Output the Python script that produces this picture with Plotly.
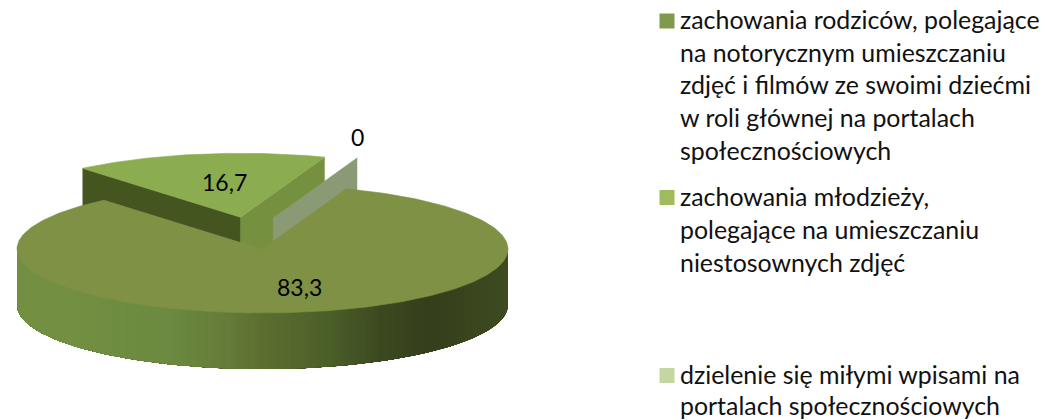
import numpy as np
import plotly.graph_objects as go

# Data
categories = [
    "zachowania rodziców, polegające na notorycznym umieszczaniu zdjęć i filmów ze swoimi dziećmi w roli głównej na portalach społecznościowych",
    "zachowania młodzieży, polegające na umieszczaniu niestosownych zdjęć",
    "dzielenie się miłymi wpisami na portalach społecznościowych",
]
values = [83.3, 16.7, 0]
value_labels = ["83,3", "16,7", "0"]
legend_lines = [
    ["zachowania rodziców, polegające", "na notorycznym umieszczaniu", "zdjęć i filmów ze swoimi dziećmi",
     "w roli głównej na portalach", "społecznościowych"],
    ["zachowania młodzieży,", "polegające na umieszczaniu", "niestosownych zdjęć"],
    ["dzielenie się miłymi wpisami na", "portalach społecznościowych"],
]

# Layout / style (pixel space of the page)
W, H = 1045, 420
CX, CY, RX, RY, DEPTH = 262.5, 249.0, 245.5, 64.0, 56.0
START = 20.0
OFFSETS = [(0, 0), (-21.8, -31.7), (10.8, -31.0)]
LABEL_POS = [(299, 287), (224, 182), (357, 137)]
FONT = "Lato"
LABEL_SIZE = 23
LEGEND_SIZE = 24.9
LEGEND_X_TEXT = 678
LEGEND_X_MARK = 667
LEGEND_COLORS = ["#7f9a4b", "#9fbb5c", "#c4d7a0"]
LEGEND_MARK_Y = [21, 197.5, 375.5]
LEGEND_LINE_Y = [[19, 51.5, 84, 117, 149.5], [196, 229, 262], [374, 405]]
TOP_COLORS = ["#7e9145", "#8cac50", "#8a9a74"]
WALL_STOPS = [(17, "#748f42"), (80, "#728f42"), (170, "#6c8a40"), (230, "#657b38"), (260, "#5c7030"),
              (330, "#4c5f2a"), (380, "#3c4a21"), (430, "#353f1c"), (508, "#3f4c21")]


def ell(theta, cx, cy):
    t = np.radians(theta)
    return cx + RX * np.sin(t), cy - RY * np.cos(t)


def hex2rgb(c):
    return [int(c[i:i + 2], 16) for i in (1, 3, 5)]


def wall_color(x):
    xs = [s[0] for s in WALL_STOPS]
    rgb = [hex2rgb(s[1]) for s in WALL_STOPS]
    return "rgb(%d,%d,%d)" % tuple(np.interp(x, xs, [c[i] for c in rgb]) for i in range(3))


def poly(fig, xs, ys, color, name=None, lw=0.6):
    fig.add_trace(go.Scatter(
        x=list(xs), y=list(ys), mode="lines", fill="toself", fillcolor=color,
        line=dict(color=color, width=lw), hoverinfo="skip", showlegend=False, name=name))


fig = go.Figure()

# Slice angles from the values
total = sum(values)
sweeps = [v / total * 360 for v in values]
a0 = START
a1 = a0 + sweeps[0]
a2 = a1 + sweeps[1]

# Exploded second slice: two inner walls and top face
cx2, cy2 = CX + OFFSETS[1][0], CY + OFFSETS[1][1]
lx, ly = ell(a1, cx2, cy2)
rx, ry = ell(a2, cx2, cy2)
poly(fig, [lx, cx2, cx2, lx], [ly, cy2, cy2 + DEPTH, ly + DEPTH], "#445520")
poly(fig, [rx, cx2, cx2, rx], [ry, cy2, cy2 + DEPTH, ry + DEPTH], "#75903f")
th = np.linspace(a1, a2, 80)
ex, ey = ell(th, cx2, cy2)
poly(fig, [cx2, *ex], [cy2, *ey], TOP_COLORS[1], categories[1])

# Zero slice: only its wall is visible
cx3, cy3 = CX + OFFSETS[2][0], CY + OFFSETS[2][1]
zx, zy = ell(a2 + sweeps[2], cx3, cy3)
poly(fig, [zx, cx3, cx3, zx], [zy, cy3, cy3 + DEPTH, zy + DEPTH], TOP_COLORS[2], categories[2])

# Main slice: outer wall painted right to left, each layer reaching the far end so no seams show
edges = np.linspace(90, 270, 161)
for b0 in edges[:-1]:
    tt = np.linspace(b0, 270, max(4, int((270 - b0) / 1.5)))
    sx, sy = ell(tt, CX, CY)
    poly(fig, [*sx, *sx[::-1]], [*sy, *(sy[::-1] + DEPTH)], wall_color(ell(b0 + 0.5, CX, CY)[0]), lw=0)
th = np.linspace(a0, a1, 300)
ex, ey = ell(th, CX, CY)
poly(fig, [CX, *ex], [CY, *ey], TOP_COLORS[0], categories[0])

# Value labels
for (x, y), t in zip(LABEL_POS, value_labels):
    fig.add_annotation(x=x, y=y, text=t, showarrow=False, xanchor="center", yanchor="middle",
                       font=dict(family=FONT, size=LABEL_SIZE, color="#000000"))

# Legend
fig.add_trace(go.Scatter(
    x=[LEGEND_X_MARK] * 3, y=LEGEND_MARK_Y, mode="markers",
    marker=dict(symbol="square", size=15, color=LEGEND_COLORS, line=dict(width=0)),
    hoverinfo="skip", showlegend=False))
for lines, ys in zip(legend_lines, LEGEND_LINE_Y):
    for line, y in zip(lines, ys):
        fig.add_annotation(x=LEGEND_X_TEXT, y=y, text=line, showarrow=False, xanchor="left",
                           yanchor="middle", font=dict(family=FONT, size=LEGEND_SIZE, color="#111111"))

fig.update_layout(
    width=W, height=H, margin=dict(l=0, r=0, t=0, b=0),
    paper_bgcolor="white", plot_bgcolor="white", showlegend=False,
    xaxis=dict(range=[0, W], visible=False, fixedrange=True),
    yaxis=dict(range=[H, 0], visible=False, fixedrange=True),
)
fig.write_html("out.html", config={"displayModeBar": False},
               post_script="document.body.style.margin='0';document.body.style.overflow='hidden';")
